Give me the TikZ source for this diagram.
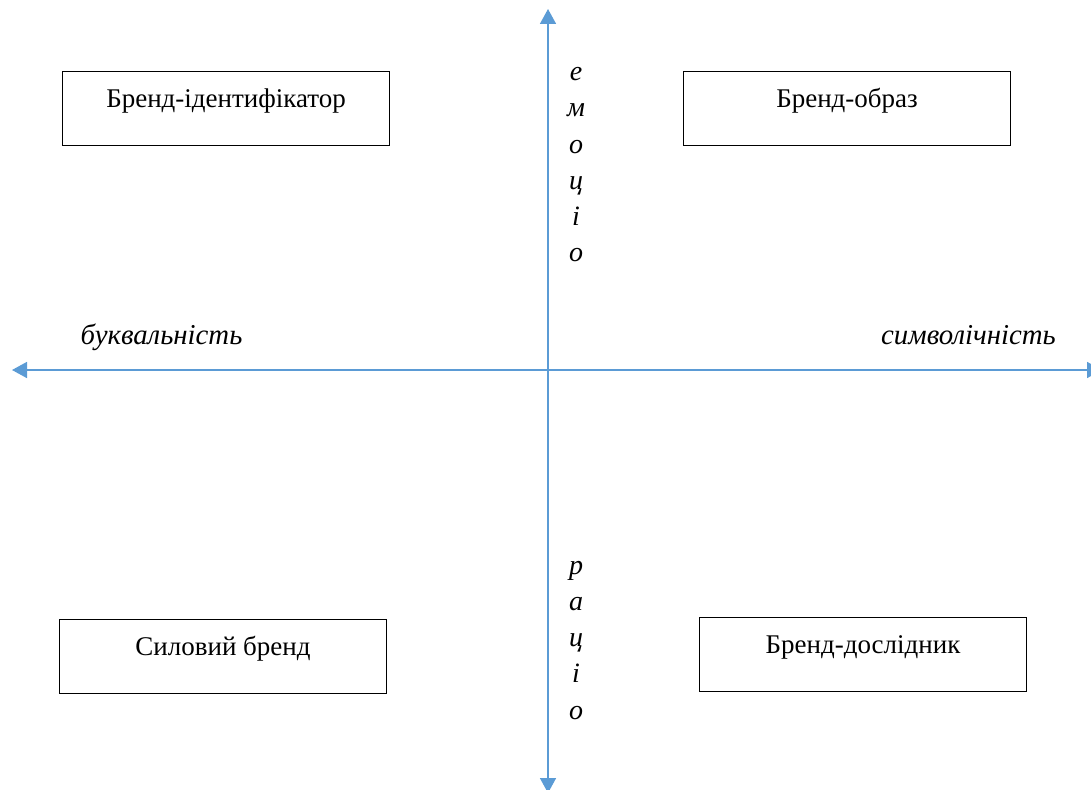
\documentclass[tikz,border=0pt]{standalone}
\usepackage{fontspec}
\setmainfont{Liberation Serif}
\usetikzlibrary{arrows.meta}
\definecolor{axisblue}{RGB}{91,155,213}
\tikzset{
  axis/.style={draw=axisblue, line width=1.6pt, -{Triangle[length=15pt,width=16pt]}},
  brandbox/.style={draw=black, line width=1.1pt, rectangle, anchor=north west,
    inner xsep=0pt, inner ysep=0pt, minimum width=327pt,
    text height=36pt, text depth=38pt, font=\fontsize{27}{31}\selectfont},
  axislabel/.style={font=\fontsize{28.8}{33}\selectfont\itshape, anchor=base, inner sep=0pt},
  letter/.style={font=\fontsize{28}{32}\selectfont\itshape, anchor=base, inner sep=0pt}
}
\begin{document}
\begin{tikzpicture}[x=1pt,y=-1pt]
\useasboundingbox (0,0) rectangle (1091,789);
\clip (0,0) rectangle (1091,789);

% axes
\coordinate (origin) at (548,370);
\coordinate (west) at (12,370);
\coordinate (east) at (1102,370);
\coordinate (north) at (548,9);
\coordinate (south) at (548,793);
\draw[axis] (origin) -- (west);
\draw[axis] (origin) -- (east);
\draw[axis] (origin) -- (north);
\draw[axis] (origin) -- (south);

% quadrant boxes
\node[brandbox] (ident) at (62,71) {Бренд-ідентифікатор};
\node[brandbox] (image) at (683,71) {Бренд-образ};
\node[brandbox] (power) at (59,619) {Силовий бренд};
\node[brandbox] (explorer) at (699,617) {Бренд-дослідник};

% horizontal axis labels
\node[axislabel] (literal) at (161.5,344) {буквальність};
\node[axislabel] (symbolic) at (968.5,344) {символічність};

% vertical axis labels, one letter per line
\foreach \ch [count=\i] in {е,м,о,ц,і,о}
  \node[letter] (emo\i) at (576,{45+36*\i}) {\ch};
\foreach \ch [count=\i] in {р,а,ц,і,о}
  \node[letter] (rat\i) at (576,{538+36.2*\i}) {\ch};
\end{tikzpicture}
\end{document}
